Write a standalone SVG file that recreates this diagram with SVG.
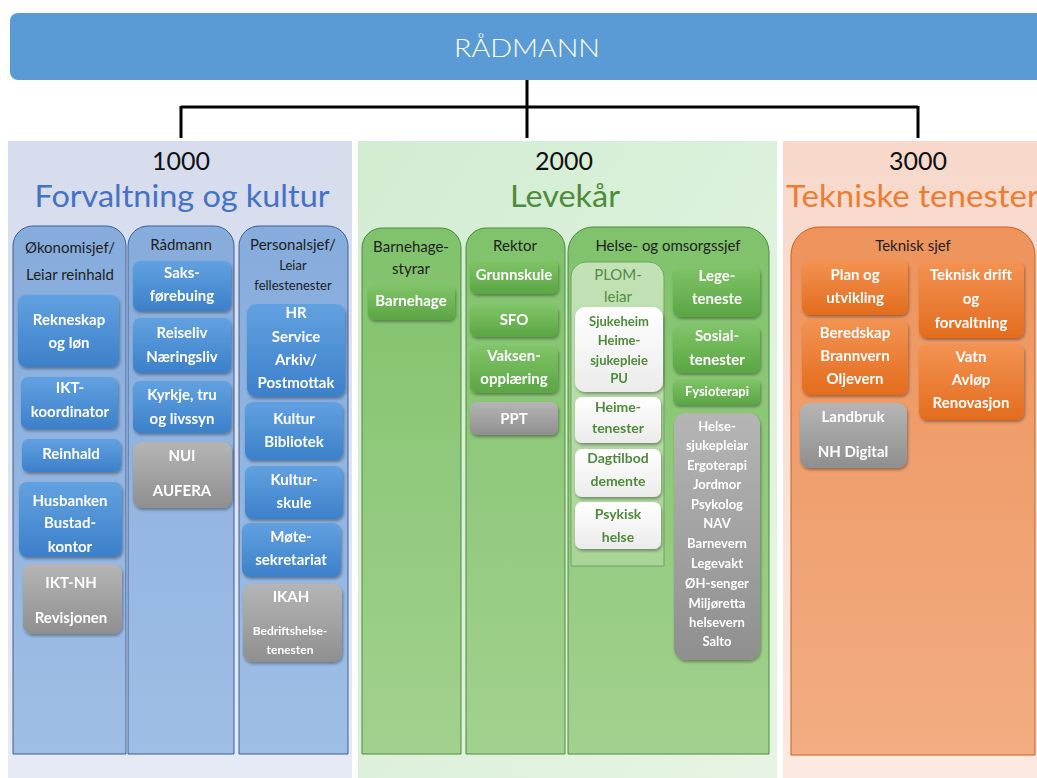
<svg xmlns="http://www.w3.org/2000/svg" width="1037" height="778" viewBox="0 0 1037 778">
<defs>
<linearGradient id="pBlue" x1="0" y1="0" x2="0" y2="1"><stop offset="0" stop-color="#D6DCEC"/><stop offset="1" stop-color="#E6EAF4"/></linearGradient>
<linearGradient id="pGreen" x1="0" y1="0" x2="1" y2="1"><stop offset="0" stop-color="#D2ECD2"/><stop offset="1" stop-color="#E6F5E3"/></linearGradient>
<linearGradient id="pOrange" x1="0" y1="0" x2="0" y2="1"><stop offset="0" stop-color="#F7D8CB"/><stop offset="1" stop-color="#FBE9E2"/></linearGradient>
<linearGradient id="cBlue" x1="0" y1="0" x2="0" y2="1"><stop offset="0" stop-color="#86ACDC"/><stop offset="1" stop-color="#9FBEE5"/></linearGradient>
<linearGradient id="cGreen" x1="0" y1="0" x2="0" y2="1"><stop offset="0" stop-color="#80C26B"/><stop offset="1" stop-color="#A3D18F"/></linearGradient>
<linearGradient id="cOrange" x1="0" y1="0" x2="0" y2="1"><stop offset="0" stop-color="#EE935C"/><stop offset="1" stop-color="#F2AD82"/></linearGradient>
<linearGradient id="cPlom" x1="0" y1="0" x2="0" y2="1"><stop offset="0" stop-color="#C3E2B6"/><stop offset="1" stop-color="#A8D596"/></linearGradient>
<linearGradient id="bBlue" x1="0" y1="0" x2="0" y2="1"><stop offset="0" stop-color="#62A1E0"/><stop offset="1" stop-color="#3C80CA"/></linearGradient>
<linearGradient id="bGreen" x1="0" y1="0" x2="0" y2="1"><stop offset="0" stop-color="#80C568"/><stop offset="1" stop-color="#5BA544"/></linearGradient>
<linearGradient id="bOrange" x1="0" y1="0" x2="0" y2="1"><stop offset="0" stop-color="#F39352"/><stop offset="1" stop-color="#E36C1D"/></linearGradient>
<linearGradient id="bGray" x1="0" y1="0" x2="0" y2="1"><stop offset="0" stop-color="#B5B5B5"/><stop offset="1" stop-color="#8F8F8F"/></linearGradient>
<linearGradient id="bWhite" x1="0" y1="0" x2="0" y2="1"><stop offset="0" stop-color="#FFFFFF"/><stop offset="1" stop-color="#EBEBEB"/></linearGradient>
<filter id="sh" x="-20%" y="-20%" width="140%" height="150%"><feDropShadow dx="1" dy="2" stdDeviation="1.5" flood-color="#000" flood-opacity="0.35"/></filter>
</defs>
<style>
text{font-family:Lato,"Open Sans","Liberation Sans",sans-serif;text-anchor:middle}
.hd{font-size:15px;fill:#1E1E1E}
.hs{font-size:13px;fill:#1E1E1E}
.bt{font-size:15px;font-weight:bold;fill:#FFFFFF}
.st{font-size:13px;font-weight:bold;fill:#FFFFFF}
.gt{font-size:13px;font-weight:bold;fill:#4F8A3A}
.gt2{font-size:14px;font-weight:bold;fill:#4F8A3A}
.box{filter:url(#sh)}
.bb{fill:url(#bBlue)}
.bg{fill:url(#bGreen)}
.bo{fill:url(#bOrange)}
.by{fill:url(#bGray)}
.bw{fill:url(#bWhite)}
.num{font-size:25px;fill:#111}
.ttl{font-size:31px}
.conn{stroke:#000;stroke-width:3;fill:none}
</style>
<rect x="0" y="0" width="1037" height="778" fill="#FFFFFF"/>
<g id="radmann">
<rect x="10" y="13" width="1050" height="67" rx="8" fill="#5B9BD5"/>
<text x="527" y="57" style="font-size:26px;font-weight:300;fill:#FFFFFF" textLength="146" lengthAdjust="spacingAndGlyphs">RÅDMANN</text>
</g>
<g id="connectors">
<path class="conn" d="M527,80 V138 M181,107 H918 M181,106 V138 M918,106 V138"/>
</g>
<g id="panel1000">
<rect x="8" y="141" width="344" height="637" fill="url(#pBlue)"/>
<text x="181" y="170" class="num">1000</text>
<text x="182" y="207" class="ttl" fill="#4472C4" textLength="295" lengthAdjust="spacingAndGlyphs">Forvaltning og kultur</text>
</g>
<g id="panel2000">
<rect x="358" y="141" width="419" height="637" fill="url(#pGreen)"/>
<text x="564" y="170" class="num">2000</text>
<text x="565" y="207" class="ttl" fill="#4E8B3A" textLength="110" lengthAdjust="spacingAndGlyphs">Levekår</text>
</g>
<g id="panel3000">
<rect x="783" y="141" width="254" height="637" fill="url(#pOrange)"/>
<text x="918" y="170" class="num">3000</text>
<text x="786" y="207" class="ttl" fill="#ED7D31" style="text-anchor:start" textLength="253" lengthAdjust="spacingAndGlyphs">Tekniske tenester</text>
</g>
<g id="col-okonomi">
<path d="M13,754 V246 A20,20 0 0 1 33,226 H106 A20,20 0 0 1 126,246 V754 Z" fill="url(#cBlue)" stroke="#3F5F97" stroke-width="1"/>
<text x="70" y="253" class="hd">Økonomisjef/</text>
<text x="70" y="280" class="hd">Leiar reinhald</text>
</g>
<g id="col-radmann">
<path d="M128,754 V246 A20,20 0 0 1 148,226 H214 A20,20 0 0 1 234,246 V754 Z" fill="url(#cBlue)" stroke="#3F5F97" stroke-width="1"/>
<text x="181" y="250" class="hd">Rådmann</text>
</g>
<g id="col-personal">
<path d="M239,754 V246 A20,20 0 0 1 259,226 H328 A20,20 0 0 1 348,246 V754 Z" fill="url(#cBlue)" stroke="#3F5F97" stroke-width="1"/>
<text x="293" y="250" class="hd">Personalsjef/</text>
<text x="293" y="270" class="hs">Leiar</text>
<text x="293" y="290" class="hs">fellestenester</text>
</g>
<g id="n-rekneskap" class="box"><rect x="18" y="295" width="101" height="72" rx="8" class="bb"/><text x="69" y="325" class="bt">Rekneskap</text><text x="69" y="348" class="bt">og løn</text></g>
<g id="n-ikt" class="box"><rect x="21" y="377" width="97" height="52" rx="7" class="bb"/><text x="70" y="393" class="bt">IKT-</text><text x="70" y="417" class="bt">koordinator</text></g>
<g id="n-reinhald" class="box"><rect x="22" y="439" width="99" height="33" rx="7" class="bb"/><text x="71" y="459" class="bt">Reinhald</text></g>
<g id="n-husbanken" class="box"><rect x="19" y="482" width="103" height="75" rx="8" class="bb"/><text x="70" y="506" class="bt">Husbanken</text><text x="70" y="528" class="bt">Bustad-</text><text x="70" y="552" class="bt">kontor</text></g>
<g id="n-iktnh" class="box"><rect x="23" y="564" width="99" height="70" rx="9" class="by"/><text x="71" y="588" class="bt">IKT-NH</text><text x="71" y="623" class="bt">Revisjonen</text></g>
<g id="n-saks" class="box"><rect x="133" y="261" width="98" height="50" rx="7" class="bb"/><text x="182" y="278" class="bt">Saks-</text><text x="182" y="301" class="bt">førebuing</text></g>
<g id="n-reiseliv" class="box"><rect x="133" y="318" width="98" height="55" rx="7" class="bb"/><text x="182" y="338" class="bt">Reiseliv</text><text x="182" y="362" class="bt">Næringsliv</text></g>
<g id="n-kyrkje" class="box"><rect x="133" y="381" width="98" height="52" rx="7" class="bb"/><text x="182" y="400" class="bt">Kyrkje, tru</text><text x="182" y="424" class="bt">og livssyn</text></g>
<g id="n-nui" class="box"><rect x="133" y="442" width="99" height="66" rx="9" class="by"/><text x="182" y="461" class="bt">NUI</text><text x="182" y="496" class="bt">AUFERA</text></g>
<g id="n-hr" class="box"><rect x="247" y="304" width="98" height="93" rx="9" class="bb"/><text x="296" y="318" class="bt">HR</text><text x="296" y="342" class="bt">Service</text><text x="296" y="365" class="bt">Arkiv/</text><text x="296" y="388" class="bt">Postmottak</text></g>
<g id="n-kultur" class="box"><rect x="245" y="402" width="98" height="58" rx="8" class="bb"/><text x="294" y="424" class="bt">Kultur</text><text x="294" y="447" class="bt">Bibliotek</text></g>
<g id="n-kulturskule" class="box"><rect x="245" y="466" width="98" height="53" rx="8" class="bb"/><text x="294" y="485" class="bt">Kultur-</text><text x="294" y="508" class="bt">skule</text></g>
<g id="n-mote" class="box"><rect x="242" y="523" width="99" height="54" rx="8" class="bb"/><text x="291" y="542" class="bt">Møte-</text><text x="291" y="565" class="bt">sekretariat</text></g>
<g id="n-ikah" class="box"><rect x="243" y="584" width="99" height="78" rx="9" class="by"/><text x="291" y="602" class="bt">IKAH</text><text x="290" y="635" style="font-size:12px;font-weight:bold;fill:#fff">Bedriftshelse-</text><text x="290" y="654" style="font-size:12px;font-weight:bold;fill:#fff">tenesten</text></g>
<g id="col-barnehage">
<path d="M362,754 V248 A20,20 0 0 1 382,228 H441 A20,20 0 0 1 461,248 V754 Z" fill="url(#cGreen)" stroke="#4E8A3E" stroke-width="1"/>
<text x="411" y="252" class="hd">Barnehage-</text>
<text x="411" y="274" class="hd">styrar</text>
</g>
<g id="col-rektor">
<path d="M466,754 V248 A20,20 0 0 1 486,228 H545 A20,20 0 0 1 565,248 V754 Z" fill="url(#cGreen)" stroke="#4E8A3E" stroke-width="1"/>
<text x="515" y="251" class="hd">Rektor</text>
</g>
<g id="col-helse">
<path d="M568,754 V252 A25,25 0 0 1 593,227 H744 A25,25 0 0 1 769,252 V754 Z" fill="url(#cGreen)" stroke="#4E8A3E" stroke-width="1"/>
<text x="668" y="251" class="hd">Helse- og omsorgssjef</text>
</g>
<g id="col-plom">
<path d="M571,566 V277 A15,15 0 0 1 586,262 H649 A15,15 0 0 1 664,277 V566 Z" fill="url(#cPlom)" stroke="#6FA55E" stroke-width="1"/>
<text x="618" y="280" style="font-size:15px;fill:#568A45">PLOM-</text>
<text x="618" y="302" style="font-size:15px;fill:#568A45">leiar</text>
</g>
<g id="n-barnehage" class="box"><rect x="368" y="285" width="87" height="35" rx="7" class="bg"/><text x="411" y="306" class="bt">Barnehage</text></g>
<g id="n-grunnskule" class="box"><rect x="470" y="260" width="88" height="34" rx="7" class="bg"/><text x="514" y="280" class="bt">Grunnskule</text></g>
<g id="n-sfo" class="box"><rect x="470" y="305" width="88" height="32" rx="7" class="bg"/><text x="514" y="325" class="bt">SFO</text></g>
<g id="n-vaksen" class="box"><rect x="470" y="346" width="88" height="47" rx="7" class="bg"/><text x="514" y="361" class="bt">Vaksen-</text><text x="514" y="384" class="bt">opplæring</text></g>
<g id="n-ppt" class="box"><rect x="470" y="402" width="88" height="33" rx="7" class="by"/><text x="514" y="424" class="bt">PPT</text></g>
<g id="n-sjukeheim" class="box"><rect x="575" y="307" width="88" height="85" rx="10" class="bw"/><text x="619" y="326" class="gt">Sjukeheim</text><text x="619" y="345" class="gt">Heime-</text><text x="619" y="365" class="gt">sjukepleie</text><text x="619" y="383" class="gt">PU</text></g>
<g id="n-heime" class="box"><rect x="575" y="397" width="86" height="46" rx="7" class="bw"/><text x="618" y="412" class="gt2">Heime-</text><text x="618" y="433" class="gt2">tenester</text></g>
<g id="n-dagtilbod" class="box"><rect x="575" y="449" width="86" height="48" rx="7" class="bw"/><text x="618" y="463" class="gt2">Dagtilbod</text><text x="618" y="486" class="gt2">demente</text></g>
<g id="n-psykisk" class="box"><rect x="575" y="502" width="86" height="47" rx="7" class="bw"/><text x="618" y="519" class="gt2">Psykisk</text><text x="618" y="542" class="gt2">helse</text></g>
<g id="n-lege" class="box"><rect x="673" y="266" width="87" height="51" rx="8" class="bg"/><text x="717" y="281" class="bt">Lege-</text><text x="717" y="304" class="bt">teneste</text></g>
<g id="n-sosial" class="box"><rect x="673" y="325" width="87" height="48" rx="8" class="bg"/><text x="717" y="341" class="bt">Sosial-</text><text x="717" y="365" class="bt">tenester</text></g>
<g id="n-fysio" class="box"><rect x="673" y="379" width="87" height="26" rx="6" class="bg"/><text x="717" y="396" class="st">Fysioterapi</text></g>
<g id="n-helseliste" class="box"><rect x="674" y="413" width="86" height="247" rx="12" class="by"/>
<text x="717" y="431" class="st">Helse-</text><text x="717" y="450" class="st">sjukepleiar</text><text x="717" y="470" class="st">Ergoterapi</text><text x="717" y="489" class="st">Jordmor</text><text x="717" y="509" class="st">Psykolog</text><text x="717" y="528" class="st">NAV</text><text x="717" y="548" class="st">Barnevern</text><text x="717" y="568" class="st">Legevakt</text><text x="717" y="588" class="st">ØH-senger</text><text x="717" y="608" class="st">Miljøretta</text><text x="717" y="627" class="st">helsevern</text><text x="717" y="646" class="st">Salto</text></g>
<g id="col-teknisk">
<path d="M791,755 V255 A28,28 0 0 1 819,227 H1007 A28,28 0 0 1 1035,255 V755 Z" fill="url(#cOrange)" stroke="#C8611F" stroke-width="1"/>
<text x="913" y="251" class="hd">Teknisk sjef</text>
</g>
<g id="n-plan" class="box"><rect x="802" y="260" width="106" height="55" rx="8" class="bo"/><text x="855" y="280" class="bt">Plan og</text><text x="855" y="303" class="bt">utvikling</text></g>
<g id="n-drift" class="box"><rect x="919" y="261" width="105" height="77" rx="8" class="bo"/><text x="971" y="280" class="bt">Teknisk drift</text><text x="971" y="304" class="bt">og</text><text x="971" y="328" class="bt">forvaltning</text></g>
<g id="n-beredskap" class="box"><rect x="802" y="320" width="106" height="75" rx="8" class="bo"/><text x="855" y="338" class="bt">Beredskap</text><text x="855" y="361" class="bt">Brannvern</text><text x="855" y="384" class="bt">Oljevern</text></g>
<g id="n-vatn" class="box"><rect x="919" y="344" width="105" height="76" rx="8" class="bo"/><text x="971" y="362" class="bt">Vatn</text><text x="971" y="385" class="bt">Avløp</text><text x="971" y="408" class="bt">Renovasjon</text></g>
<g id="n-landbruk" class="box"><rect x="800" y="403" width="107" height="65" rx="9" class="by"/><text x="853" y="422" class="bt">Landbruk</text><text x="853" y="457" class="bt">NH Digital</text></g>
</svg>
